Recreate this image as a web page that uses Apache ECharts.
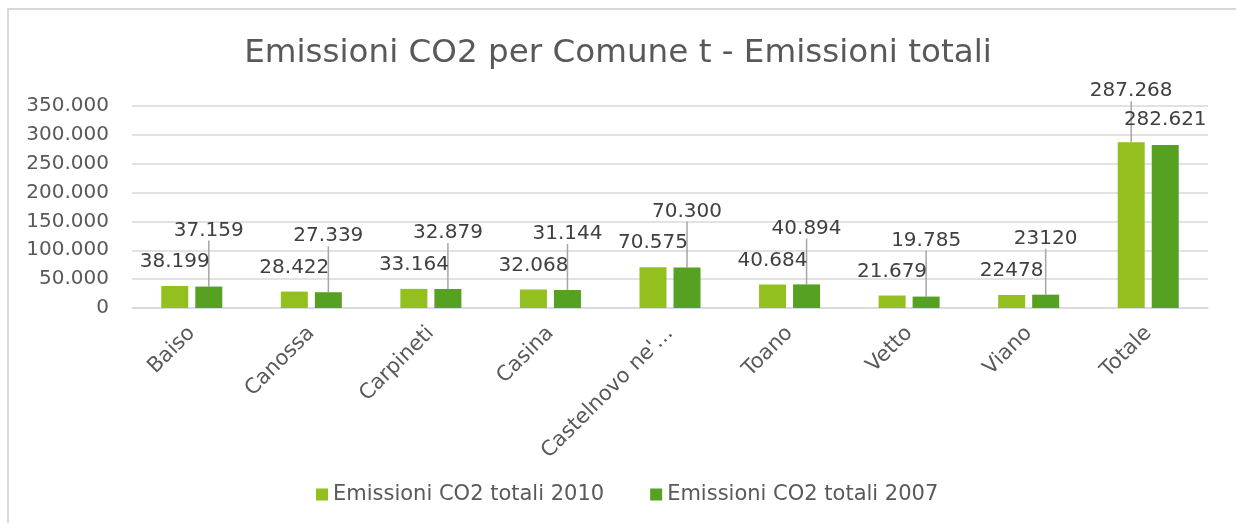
<!DOCTYPE html>
<html>
<head>
<meta charset="utf-8">
<script src="https://cdn.jsdelivr.net/npm/echarts@6/dist/echarts.min.js"></script>
<style>
  html, body { margin: 0; padding: 0; background: #ffffff; overflow: hidden; }
  #frame { position: absolute; left: 7px; top: 8px; width: 1229px; height: 515px; border-left: 2px solid #d9d9d9; border-top: 2px solid #d9d9d9; box-sizing: border-box; }
  #chart { position: absolute; left: 0; top: 0; width: 1236px; height: 523px; }
</style>
</head>
<body>
<div id="frame"></div>
<div id="chart"></div>
<script>
// ---- data ----
const categories = ['Baiso', 'Canossa', 'Carpineti', 'Casina', "Castelnovo ne'…", 'Toano', 'Vetto', 'Viano', 'Totale'];
const values2010 = [38199, 28422, 33164, 32068, 70575, 40684, 21679, 22478, 287268];
const values2007 = [37159, 27339, 32879, 31144, 70300, 40894, 19785, 23120, 282621];
const labels2010 = ['38.199', '28.422', '33.164', '32.068', '70.575', '40.684', '21.679', '22478', '287.268'];
const labels2007 = ['37.159', '27.339', '32.879', '31.144', '70.300', '40.894', '19.785', '23120', '282.621'];
const seriesNames = ['Emissioni CO2 totali 2010', 'Emissioni CO2 totali 2007'];
const titleText = 'Emissioni CO2 per Comune t - Emissioni totali';

// ---- rendering ----
const FONT = 'DejaVu Sans';
const lastIdx = categories.length - 1;
const fmtThousands = v => String(v).replace(/\B(?=(\d{3})+(?!\d))/g, '.');
const guideOn = { show: true, length2: 0, smooth: false, lineStyle: { color: '#a6a6a6', width: 1.5 } };
const guideOff = { show: false };

// 2010: only the "Totale" label is lifted with a leader line
const data2010 = values2010.map((v, i) => (i === lastIdx ? { value: v, labelLine: guideOn } : v));
// 2007: every label lifted with a leader line except "Totale"
const data2007 = values2007.map((v, i) => (i === lastIdx ? { value: v, labelLine: guideOff } : v));

const chart = echarts.init(document.getElementById('chart'), null, { renderer: 'canvas' });
chart.setOption({
  backgroundColor: 'transparent',
  animation: false,
  title: {
    text: titleText,
    left: 'center',
    top: 32,
    textStyle: { fontFamily: FONT, fontSize: 32.6, fontWeight: 'normal', color: '#595959' }
  },
  legend: {
    left: 311,
    top: 479,
    itemWidth: 12,
    itemHeight: 12,
    itemGap: 46,
    icon: 'rect',
    textStyle: { fontFamily: FONT, fontSize: 21, color: '#595959' },
    data: seriesNames
  },
  grid: { left: 132, right: 28, top: 106, bottom: 215, containLabel: false },
  xAxis: {
    type: 'category',
    data: categories,
    axisTick: { show: false },
    axisLine: { lineStyle: { color: '#d9d9d9', width: 1.5 } },
    axisLabel: { rotate: 45, margin: 22, fontFamily: FONT, fontSize: 21, color: '#595959', interval: 0 }
  },
  yAxis: {
    type: 'value',
    min: 0,
    max: 350000,
    interval: 50000,
    axisLine: { show: false },
    axisTick: { show: false },
    splitLine: { lineStyle: { color: '#d9d9d9', width: 1.5 } },
    axisLabel: { margin: 23, fontFamily: FONT, fontSize: 20, color: '#595959', formatter: fmtThousands }
  },
  series: [
    {
      name: seriesNames[0],
      type: 'bar',
      data: data2010,
      barWidth: 27,
      barGap: '26%',
      itemStyle: { color: '#93C01F' },
      label: {
        show: true, position: 'top', distance: 14,
        fontFamily: FONT, fontSize: 20, color: '#404040',
        formatter: p => labels2010[p.dataIndex]
      },
      labelLine: guideOff,
      labelLayout: p => (p.dataIndex === lastIdx ? { dy: -27 } : {})
    },
    {
      name: seriesNames[1],
      type: 'bar',
      data: data2007,
      barWidth: 27,
      itemStyle: { color: '#56A121' },
      label: {
        show: true, position: 'top', distance: 5,
        fontFamily: FONT, fontSize: 20, color: '#404040',
        formatter: p => labels2007[p.dataIndex]
      },
      labelLine: guideOn,
      labelLayout: p => (p.dataIndex === lastIdx ? { dy: -10 } : { dy: -41 })
    }
  ]
});
</script>
</body>
</html>
